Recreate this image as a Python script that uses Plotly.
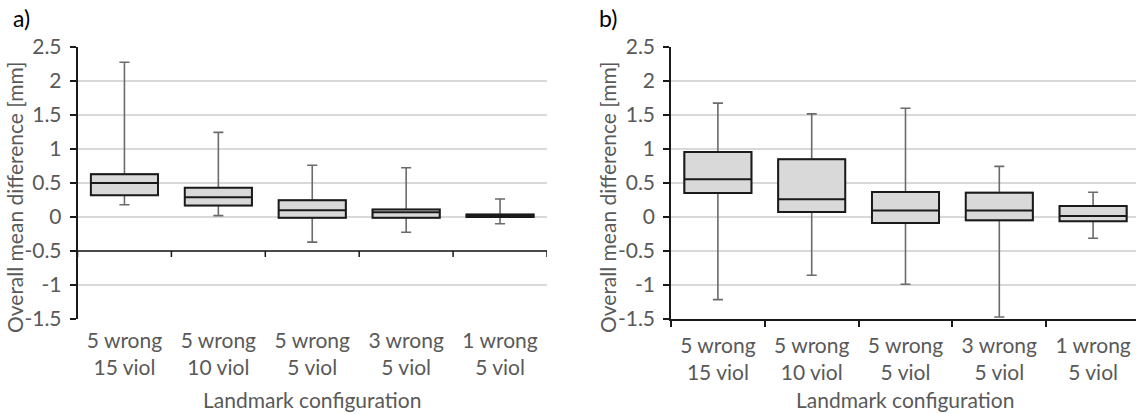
import plotly.graph_objects as go

categories = ["5 wrong<br>15 viol", "5 wrong<br>10 viol", "5 wrong<br>5 viol", "3 wrong<br>5 viol", "1 wrong<br>5 viol"]
positions = [0, 1, 2, 3, 4]

# panel a)
a_low = [0.18, 0.02, -0.37, -0.225, -0.10]
a_q1 = [0.32, 0.17, -0.01, -0.01, 0.00]
a_med = [0.50, 0.29, 0.10, 0.07, 0.02]
a_q3 = [0.63, 0.43, 0.245, 0.11, 0.035]
a_high = [2.275, 1.245, 0.76, 0.725, 0.265]

# panel b)
b_low = [-1.215, -0.857, -0.99, -1.47, -0.313]
b_q1 = [0.353, 0.074, -0.088, -0.049, -0.063]
b_med = [0.555, 0.26, 0.094, 0.094, 0.015]
b_q3 = [0.955, 0.85, 0.368, 0.358, 0.162]
b_high = [1.674, 1.517, 1.60, 0.745, 0.363]

ytick_vals = [-1.5, -1, -0.5, 0, 0.5, 1, 1.5, 2, 2.5]
ytick_text = ["-1.5", "-1", "-0.5", "0", "0.5", "1", "1.5", "2", "2.5"]
boundaries = [-0.5, 0.5, 1.5, 2.5, 3.5, 4.5]

W, H = 1136, 414
FONT = "Lato"
GREY_TXT = "#595959"
BOX_W = 0.715
FS = 21

fig = go.Figure()

def add_panel(xa, ya, low, q1, med, q3, high):
    # whiskers (grey)
    fig.add_trace(go.Box(
        x=positions, q1=q1, median=med, q3=q3, lowerfence=low, upperfence=high,
        xaxis=xa, yaxis=ya, width=BOX_W, whiskerwidth=0.15,
        line=dict(color="#6b6b6b", width=1.6), fillcolor="rgba(0,0,0,0)",
        boxpoints=False, showlegend=False, hoverinfo="skip"))
    # box body (black outline)
    fig.add_trace(go.Box(
        x=positions, q1=q1, median=med, q3=q3, lowerfence=q1, upperfence=q3,
        xaxis=xa, yaxis=ya, width=BOX_W, whiskerwidth=0,
        line=dict(color="#1a1a1a", width=2), fillcolor="#d9d9d9",
        boxpoints=False, showlegend=False, hoverinfo="skip"))

add_panel("x", "y", a_low, a_q1, a_med, a_q3, a_high)
add_panel("x2", "y2", b_low, b_q1, b_med, b_q3, b_high)

ydom = [1 - 319 / H, 1 - 47 / H]
xdom1 = [77.5 / W, 547 / W]
xdom2 = [671 / W, 1.0]
right_end = -0.5 + (W - 671) / 93.8

yaxis_common = dict(
    range=[-1.5, 2.5], domain=ydom, tickmode="array", tickvals=ytick_vals, ticktext=ytick_text,
    showgrid=True, gridcolor="#d9d9d9", gridwidth=1.5, zeroline=False,
    showline=True, linecolor="#1a1a1a", linewidth=1.5,
    ticks="outside", ticklen=6, tickcolor="#1a1a1a", tickwidth=1.5,
    ticklabelstandoff=4,
    tickfont=dict(family=FONT, size=FS, color=GREY_TXT), automargin=False,
)
xaxis_common = dict(
    tickmode="array", tickvals=positions, ticktext=categories, showgrid=False, zeroline=False,
    tickfont=dict(family=FONT, size=FS, color=GREY_TXT), ticks="", automargin=False,
    ticklabelstandoff=7,
)

fig.update_layout(
    width=W, height=H, margin=dict(l=0, r=0, t=0, b=0),
    paper_bgcolor="white", plot_bgcolor="white", boxmode="overlay",
    xaxis=dict(domain=xdom1, range=[-0.5, 4.5], anchor="y", showline=False, **xaxis_common),
    yaxis=dict(anchor="x", **yaxis_common),
    xaxis2=dict(domain=xdom2, range=[-0.5, right_end], anchor="y2", showline=True,
                linecolor="#1a1a1a", linewidth=1.5,
                minor=dict(tickmode="array", tickvals=boundaries, ticks="outside", ticklen=6,
                           tickcolor="#1a1a1a", tickwidth=1.5, showgrid=False),
                **xaxis_common),
    yaxis2=dict(anchor="x2", **yaxis_common),
)

# panel a) horizontal axis line crossing at -0.5 with boundary ticks
fig.add_shape(type="line", xref="x", yref="y", x0=-0.5, x1=4.5, y0=-0.5, y1=-0.5,
              line=dict(color="#1a1a1a", width=1.5), layer="above")
for b in boundaries:
    fig.add_shape(type="line", xref="x", yref="y", ysizemode="pixel", yanchor=-0.5,
                  x0=b, x1=b, y0=0, y1=-6, line=dict(color="#1a1a1a", width=1.5), layer="above")

def ann(text, x, y, size=FS, color=GREY_TXT, angle=0, xanchor="center"):
    fig.add_annotation(text=text, x=x / W, y=1 - y / H, xref="paper", yref="paper",
                       showarrow=False, textangle=angle, xanchor=xanchor, yanchor="middle",
                       font=dict(family=FONT, size=size, color=color))

ann("a)", 11, 18, size=23, color="#000000", xanchor="left")
ann("b)", 597, 18, size=23, color="#000000", xanchor="left")
ann("Overall mean difference [mm]", 14, 197, angle=-90)
ann("Overall mean difference [mm]", 607, 197, angle=-90)
ann("Landmark configuration", 312, 399)
ann("Landmark configuration", 905, 399)

fig.write_html("out.html")
